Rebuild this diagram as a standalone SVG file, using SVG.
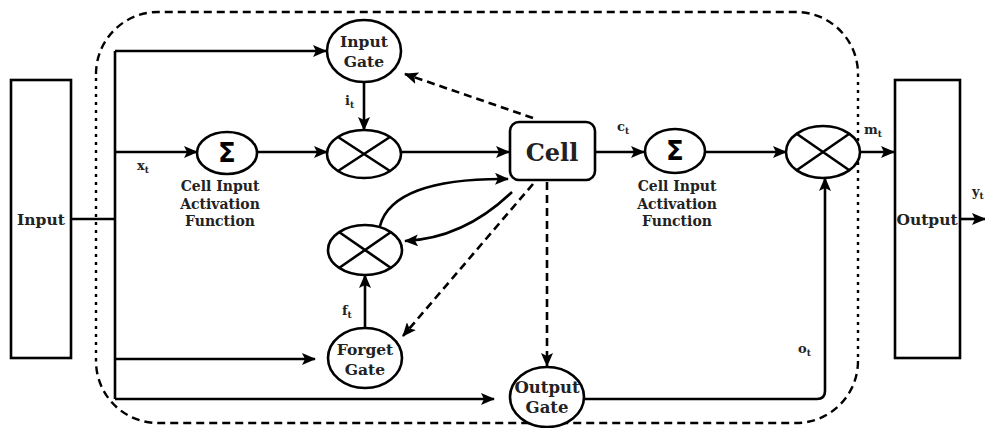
<svg xmlns="http://www.w3.org/2000/svg" width="985" height="428" viewBox="0 0 985 428">
<defs>
<marker id="ah" markerUnits="userSpaceOnUse" markerWidth="14" markerHeight="12" refX="13" refY="6" orient="auto">
<path d="M0,0 L14,6 L0,12 L3,6 z" fill="#000"/>
</marker>
<style>
.ln{fill:none;stroke:#000;stroke-width:2.6}
.arr{fill:none;stroke:#000;stroke-width:2.6;marker-end:url(#ah)}
.dsh{fill:none;stroke:#000;stroke-width:2.6;stroke-dasharray:8 5;marker-end:url(#ah)}
.bd{fill:none;stroke:#000;stroke-width:2.4;stroke-dasharray:8 5}
.bds{fill:none;stroke:#000;stroke-width:2.4;stroke-dasharray:3 5}
.nd{fill:#fff;stroke:#000;stroke-width:2.6}
.t{font-family:"DejaVu Serif","Liberation Serif",serif;font-weight:bold;fill:#222;text-anchor:middle}
.lb{font-family:"DejaVu Serif","Liberation Serif",serif;font-weight:bold;fill:#222;font-size:13px}
.sub{font-size:9px}
.sig{font-family:"DejaVu Sans","Liberation Sans",sans-serif;font-weight:bold;font-size:26px;fill:#000;text-anchor:middle}
</style>
</defs>
<rect width="985" height="428" fill="#fff"/>

<g id="border">
<path class="bd" d="M96,74 A62,62 0 0 1 158,12 H796 A62,62 0 0 1 858,74"/>
<path class="bds" d="M858,74 V361"/>
<path class="bd" d="M858,361 A62,62 0 0 1 796,423 H158 A62,62 0 0 1 96,361"/>
<path class="bds" d="M96,361 V74"/>
</g>

<g id="connectors">
<path class="ln" d="M71,219 H115 M115,51 V399"/>
<path class="arr" d="M115,51 H326"/>
<path class="arr" d="M115,152 H197"/>
<path class="arr" d="M257,152 H327"/>
<path class="arr" d="M364,82 V130"/>
<path class="arr" d="M401,152 H509"/>
<path class="arr" d="M595,152 H644"/>
<path class="arr" d="M705,152 H786"/>
<path class="arr" d="M860,152 H894"/>
<path class="arr" d="M960,219 H985"/>
<path class="arr" d="M115,359 H315"/>
<path class="arr" d="M115,399 H494"/>
<path class="arr" d="M365,328 V275"/>
<path class="arr" d="M584,399 H817 Q825,399 825,391 V178"/>
<path class="arr" d="M380,226 C388,195 430,178 508,179"/>
<path class="arr" d="M512,192 C485,218 450,239 405,241"/>
<path class="dsh" d="M533,118 L405,74"/>
<path class="dsh" d="M533,184 L403,336"/>
<path class="dsh" d="M547,182 V366"/>
</g>

<g id="input">
<rect class="nd" x="11" y="80" width="60" height="278"/>
<text class="t" x="41" y="225" font-size="15.5">Input</text>
</g>

<g id="output">
<rect class="nd" x="895" y="80" width="65" height="278"/>
<text class="t" x="927" y="225" font-size="15.5">Output</text>
</g>

<g id="input-gate">
<ellipse class="nd" cx="364" cy="51" rx="37" ry="31"/>
<text class="t" x="364" y="47" font-size="15.5">Input</text>
<text class="t" x="364" y="67" font-size="15.5">Gate</text>
</g>

<g id="forget-gate">
<ellipse class="nd" cx="365" cy="358" rx="37" ry="30"/>
<text class="t" x="365" y="355" font-size="15.5">Forget</text>
<text class="t" x="365" y="375" font-size="15.5">Gate</text>
</g>

<g id="output-gate">
<ellipse class="nd" cx="547" cy="397" rx="37" ry="30"/>
<text class="t" x="547" y="393" font-size="16.5">Output</text>
<text class="t" x="547" y="413" font-size="16.5">Gate</text>
</g>

<g id="sum1">
<ellipse class="nd" cx="227" cy="153" rx="30" ry="21"/>
<text class="sig" x="227" y="162">Σ</text>
<text class="t" x="220" y="191" font-size="14">Cell Input</text>
<text class="t" x="220" y="209" font-size="14">Activation</text>
<text class="t" x="220" y="226" font-size="14">Function</text>
</g>

<g id="sum2">
<ellipse class="nd" cx="675" cy="151" rx="30" ry="22"/>
<text class="sig" x="675" y="160">Σ</text>
<text class="t" x="677" y="191" font-size="14">Cell Input</text>
<text class="t" x="677" y="209" font-size="14">Activation</text>
<text class="t" x="677" y="226" font-size="14">Function</text>
</g>

<g id="mult1">
<ellipse class="nd" cx="364" cy="154" rx="37" ry="24"/>
<path class="ln" d="M338,137 L390,171 M338,171 L390,137"/>
</g>

<g id="mult2">
<ellipse class="nd" cx="823" cy="152" rx="37" ry="26"/>
<path class="ln" d="M797,134 L849,170 M797,170 L849,134"/>
</g>

<g id="mult3">
<ellipse class="nd" cx="365" cy="250" rx="37" ry="25"/>
<path class="ln" d="M339,232 L391,268 M339,268 L391,232"/>
</g>

<g id="cell">
<rect class="nd" x="510" y="122" width="85" height="58" rx="9"/>
<text class="t" x="552" y="161" font-size="24">Cell</text>
</g>

<g id="labels">
<text class="lb" x="137" y="170">x<tspan class="sub" dy="3">t</tspan></text>
<text class="lb" x="345" y="105">i<tspan class="sub" dy="3">t</tspan></text>
<text class="lb" x="342" y="315">f<tspan class="sub" dy="3">t</tspan></text>
<text class="lb" x="617" y="131">c<tspan class="sub" dy="3">t</tspan></text>
<text class="lb" x="864" y="134">m<tspan class="sub" dy="3">t</tspan></text>
<text class="lb" x="798" y="353">o<tspan class="sub" dy="3">t</tspan></text>
<text class="lb" x="972" y="196">y<tspan class="sub" dy="3">t</tspan></text>
</g>
</svg>
